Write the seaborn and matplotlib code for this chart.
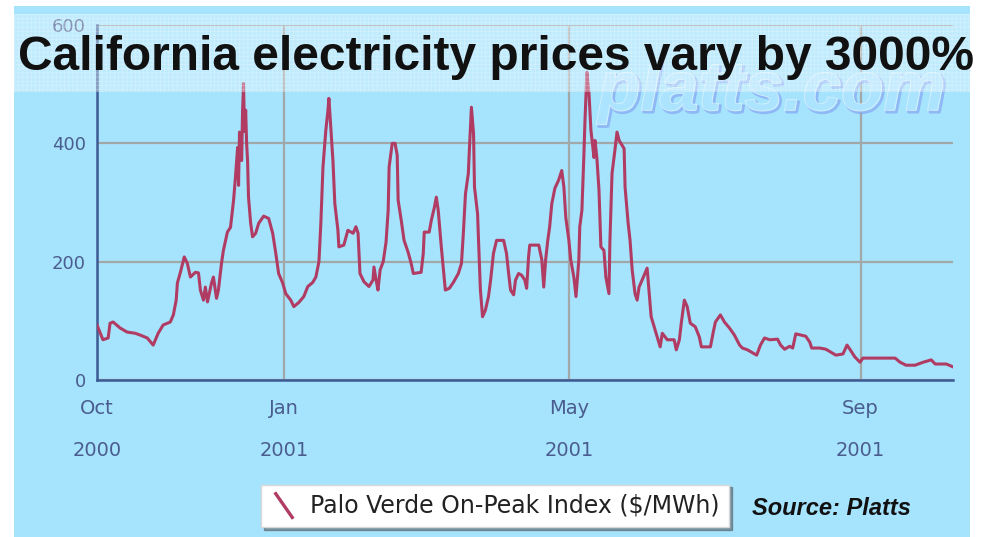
import numpy as np
import pandas as pd
import matplotlib.pyplot as plt
import matplotlib.patheffects as pe
from matplotlib.patches import Rectangle
from matplotlib.lines import Line2D
from matplotlib.legend_handler import HandlerBase
import seaborn as sns

# days since the left edge of the axis (mid Oct 2000), price in $/MWh
start = pd.Timestamp('2000-10-14')
end = pd.Timestamp('2001-10-10')
day = [0, 2.5, 4.7, 5.5, 6.8, 9.7, 12.7, 16.1, 18.2, 21.2,
       23.7, 25.8, 27.9, 30.9, 32.2, 33.4, 33.9, 35.1, 36.8, 38.1,
       39.4, 41.5, 42.8, 43.6, 44.9, 45.7, 46.6, 48.3, 49.1, 50.4,
       51.2, 52.5, 53.3, 55.0, 56.3, 57.6, 58.4, 59.3, 59.7, 60.1,
       61.0, 61.4, 61.8, 62.2, 62.7, 63.1, 63.5, 63.9, 64.8, 65.6,
       66.9, 68.2, 70.3, 72.4, 74.1, 75.4, 76.6, 78.3, 79.6, 81.7,
       83.0, 85.1, 87.2, 88.9, 91.0, 92.3, 93.6, 94.4, 95.3, 96.5,
       97.4, 97.8, 98.6, 99.5, 100.3, 101.6, 102.0, 104.1, 105.8, 108.0,
       109.2, 110.1, 110.9, 112.6, 114.7, 116.4, 116.8, 117.7, 118.5, 119.4,
       120.7, 121.9, 122.8, 123.2, 124.5, 125.7, 126.6, 127.0, 128.3, 129.5,
       131.2, 132.5, 133.4, 136.7, 137.6, 138.0, 140.1, 141.0, 142.3, 143.1,
       143.9, 145.2, 146.1, 146.9, 148.6, 150.3, 152.4, 153.7, 154.5, 155.4,
       156.6, 157.1, 157.9, 158.8, 159.2, 160.5, 160.9, 161.7, 162.6, 163.8,
       165.1, 166.0, 167.2, 168.5, 171.5, 172.7, 173.6, 174.4, 175.7, 176.5,
       177.8, 179.1, 180.4, 181.2, 182.0, 182.5, 186.3, 187.6, 188.4, 189.2,
       190.1, 190.9, 191.8, 193.1, 194.7, 196.0, 196.9, 197.7, 199.0, 199.8,
       201.1, 202.0, 203.2, 203.6, 204.5, 205.3, 205.8, 206.6, 207.5, 208.3,
       209.6, 210.0, 210.8, 211.7, 212.5, 213.8, 214.6, 215.9, 216.3, 217.2,
       218.4, 219.3, 220.2, 222.3, 222.7, 224.0, 224.8, 225.7, 226.9, 227.8,
       228.6, 229.9, 232.0, 232.9, 233.7, 235.4, 237.5, 238.4, 240.5, 243.4,
       244.3, 245.6, 246.4, 247.7, 248.9, 250.2, 252.3, 254.0, 254.9, 256.6,
       258.7, 259.9, 260.8, 262.9, 264.6, 266.7, 268.8, 271.0, 272.2, 274.3,
       276.5, 278.2, 279.8, 281.5, 283.7, 287.0, 288.3, 290.0, 292.1, 293.4,
       294.7, 296.8, 298.9, 300.6, 301.4, 304.8, 307.4, 309.5, 311.6, 314.6,
       316.3, 317.5, 319.6, 321.8, 323.0, 327.3, 332.8, 336.6, 338.7, 341.2,
       345.0, 348.4, 351.8, 353.5, 358.2, 361.1]
price = [93, 68, 71, 96, 98, 88, 81, 79, 76, 71,
         59, 79, 93, 98, 110, 135, 164, 181, 208, 197,
         174, 182, 181, 152, 135, 157, 132, 164, 174, 138,
         152, 197, 219, 250, 258, 304, 343, 393, 329, 419,
         371, 456, 501, 420, 456, 400, 371, 309, 265, 242,
         248, 265, 277, 273, 248, 214, 180, 164, 146, 135,
         124, 131, 141, 158, 165, 174, 200, 265, 360, 422,
         456, 476, 427, 371, 298, 253, 225, 228, 253, 248,
         259, 248, 180, 166, 158, 169, 191, 169, 152, 186,
         200, 233, 287, 360, 400, 400, 380, 304, 270, 236,
         216, 197, 180, 182, 214, 250, 250, 270, 292, 309,
         287, 225, 186, 152, 155, 165, 180, 197, 248, 315,
         349, 394, 461, 416, 326, 281, 236, 152, 107, 118,
         141, 169, 214, 236, 236, 214, 180, 152, 144, 169,
         180, 177, 169, 155, 208, 228, 228, 203, 157, 203,
         236, 259, 298, 324, 338, 354, 326, 275, 236, 203,
         174, 141, 203, 259, 287, 376, 439, 520, 484, 422,
         376, 405, 376, 321, 225, 219, 174, 146, 233, 349,
         388, 419, 405, 391, 326, 265, 236, 186, 146, 135,
         157, 169, 189, 146, 107, 84, 56, 79, 68, 68,
         51, 68, 96, 135, 124, 96, 90, 73, 56, 56,
         56, 81, 98, 110, 98, 88, 76, 59, 54, 51,
         46, 42, 59, 71, 68, 69, 59, 52, 57, 54,
         78, 76, 74, 64, 54, 54, 52, 47, 42, 44,
         59, 52, 39, 30, 37, 37, 37, 37, 30, 25,
         25, 30, 34, 27, 27, 22]

tick_dates = ['2000-10-14', '2001-01-01', '2001-05-01', '2001-09-01']
tick_labels = ['Oct\n2000', 'Jan\n2001', 'May\n2001', 'Sep\n2001']
y_ticks = [0, 200, 400, 600]
series_name = 'Palo Verde On-Peak Index ($/MWh)'

bg = '#a6e3fd'
line_c = '#b03c64'
axis_c = '#3d5a95'
label_c = '#4a5d8e'

df = pd.DataFrame({'date': start + pd.to_timedelta(day, unit='D'), 'price': price})

sns.set_theme(style='white')
plt.rcParams['font.family'] = ['DejaVu Sans']
plt.rcParams['hatch.linewidth'] = 0.5

fig = plt.figure(figsize=(9.87, 5.37), dpi=100)
fig.patch.set_facecolor('white')
fig.patches.append(Rectangle((14 / 987, 0), 956 / 987, 531 / 537, transform=fig.transFigure,
                             facecolor=bg, edgecolor='none', zorder=-1))

ax = fig.add_axes([97 / 987, 1 - 380 / 537, 856 / 987, 355 / 537])
ax.set_facecolor(bg)
sns.lineplot(data=df, x='date', y='price', ax=ax, color=line_c, linewidth=2.2, zorder=3)

ax.set_xlim(start, end)
ax.set_ylim(0, 600)
ax.set_yticks(y_ticks)
ax.set_yticklabels([str(v) for v in y_ticks])
ax.set_xticks(pd.to_datetime(tick_dates))
ax.set_xticklabels(tick_labels)
for lab in ax.get_xticklabels():
    lab.set_linespacing(2.5)
ax.set_xlabel('')
ax.set_ylabel('')
ax.grid(True, color='#a2a7a8', linewidth=1.6, zorder=1)
ax.set_axisbelow(True)
for s in ['top', 'right']:
    ax.spines[s].set_visible(False)
for s in ['left', 'bottom']:
    ax.spines[s].set_color(axis_c)
    ax.spines[s].set_linewidth(1.8)
ax.tick_params(axis='both', direction='out', length=5, width=1.5, color=axis_c, labelcolor=label_c)
ax.tick_params(axis='x', labelsize=14, pad=9)
ax.tick_params(axis='y', labelsize=13, pad=3)

# platts watermark, behind the line
ax.text(598 / 987, 1 - 110 / 537, 'platts.com', transform=fig.transFigure, clip_on=False,
        fontsize=50, fontweight='bold', fontstyle='italic',
        family=['Liberation Sans'], color='#ade4ff', alpha=0.9, zorder=2,
        path_effects=[pe.Stroke(offset=(1.5, -1.5), linewidth=2, foreground='#7f9cf0', alpha=0.6),
                      pe.Stroke(linewidth=1, foreground='#e8f7ff', alpha=0.8), pe.Normal()])

# textured light band behind the title
fig.patches.append(Rectangle((14 / 987, 1 - 92 / 537), 956 / 987, 78 / 537, transform=fig.transFigure,
                             facecolor='white', edgecolor='white', hatch='++++', alpha=0.3,
                             linewidth=0, zorder=3))

fig.text(496 / 987, 1 - 70 / 537, 'California electricity prices vary by 3000%', ha='center', va='baseline',
         fontsize=34.5, fontweight='bold', family=['Liberation Sans'], color='#111111', zorder=5)


class DiagHandler(HandlerBase):
    def create_artists(self, legend, orig_handle, xdescent, ydescent, width, height, fontsize, trans):
        ln = Line2D([width * 0.15, width * 0.75], [height * 1.25, -height * 0.35],
                    color=orig_handle.get_color(), linewidth=orig_handle.get_linewidth(),
                    solid_capstyle='butt', transform=trans)
        return [ln]


proxy = Line2D([], [], color=line_c, linewidth=2.4, label=series_name)
leg = fig.legend(handles=[proxy], handler_map={proxy: DiagHandler()}, loc='center',
                 bbox_to_anchor=(495 / 987, 1 - 506 / 537), bbox_transform=fig.transFigure,
                 frameon=True, fancybox=False, shadow=True, fontsize=17,
                 handlelength=1.3, handletextpad=0.4, borderpad=0.4)
leg.get_frame().set_edgecolor('#d8d8d8')
leg.get_frame().set_facecolor('white')
for t in leg.get_texts():
    t.set_color('#222222')

fig.text(752 / 987, 1 - 515 / 537, 'Source: Platts', fontsize=17, fontweight='bold', fontstyle='italic',
         family=['Liberation Sans'], color='#111111')

fig.savefig('out.png', dpi=100)
